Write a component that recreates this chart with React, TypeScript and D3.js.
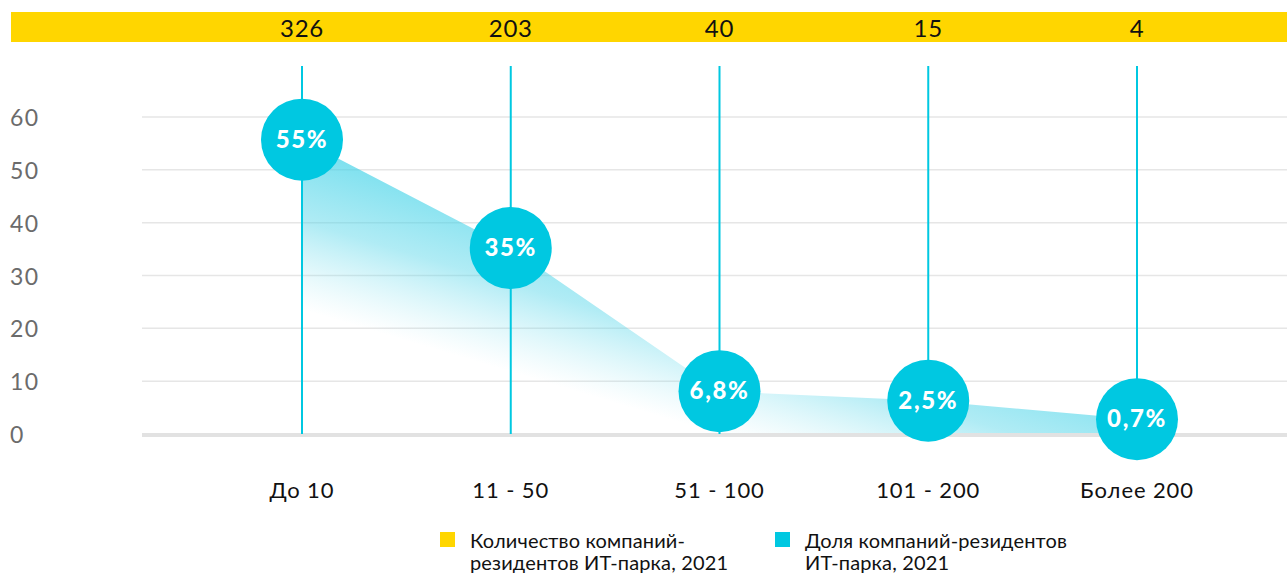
import React from "react";
import * as d3 from "d3";

const categories = ["До 10", "11 - 50", "51 - 100", "101 - 200", "Более 200"];
const companyCounts = [326, 203, 40, 15, 4];
const shareLabels = ["55%", "35%", "6,8%", "2,5%", "0,7%"];
// vertical positions of the bubbles as drawn in the reference (axis units)
const sharePlotted = [55.7, 35.2, 8.1, 6.3, 2.8];
const yTicks = [0, 10, 20, 30, 40, 50, 60];
const legendItems = [
  { color: "#FFD600", lines: ["Количество компаний-", "резидентов ИТ-парка, 2021"] },
  { color: "#00C8E1", lines: ["Доля компаний-резидентов", "ИТ-парка, 2021"] },
];

const W = 1287;
const H = 574;
const FONT = "Lato, 'Open Sans', sans-serif";

export default function App() {
  const x = d3.scalePoint<string>().domain(categories).range([302, 1137]);
  const y = d3.scaleLinear().domain([0, 60]).range([434, 117]);

  const pts = categories.map((c, i) => ({ c, v: sharePlotted[i] }));
  const area = d3
    .area<{ c: string; v: number }>()
    .x((d) => x(d.c) as number)
    .y0(y(0))
    .y1((d) => y(d.v))(pts) as string;

  const cyan = "#00C8E1";
  const r = 41;

  return (
    <svg
      width={W}
      height={H}
      style={{ position: "absolute", left: 0, top: 0, background: "#fff" }}
      fontFamily={FONT}
    >
      <defs>
        <linearGradient id="areaGrad" gradientUnits="userSpaceOnUse" x1={360} y1={130} x2={306} y2={311}>
          <stop offset="0" stopColor="#2fcfe6" stopOpacity={0.75} />
          <stop offset="0.55" stopColor="#4fd4e8" stopOpacity={0.45} />
          <stop offset="1" stopColor="#8fe3f0" stopOpacity={0} />
        </linearGradient>
      </defs>

      {/* top yellow band */}
      <rect x={11} y={12} width={W - 11} height={30} fill="#FFD600" />
      {categories.map((c, i) => (
        <text
          key={"cnt" + i}
          x={x(c)}
          y={37}
          textAnchor="middle"
          fontSize={24}
          letterSpacing={0.8}
          fill="#111"
        >
          {companyCounts[i]}
        </text>
      ))}

      {/* gridlines */}
      {yTicks.filter((t) => t > 0).map((t) => (
        <line key={"g" + t} x1={142} x2={W} y1={y(t)} y2={y(t)} stroke="#e6e6e6" strokeWidth={1.5} />
      ))}
      {yTicks.map((t) => (
        <text key={"yt" + t} x={10} y={y(t) + 9} fontSize={23} letterSpacing={1.5} fill="#6b6b6b">
          {t}
        </text>
      ))}

      {/* area */}
      <path d={area} fill="url(#areaGrad)" />

      {/* zero line */}
      <line x1={142} x2={W} y1={y(0) + 1} y2={y(0) + 1} stroke="#e2e2e2" strokeWidth={4} />

      {/* vertical lines */}
      {categories.map((c) => (
        <line key={"v" + c} x1={x(c)} x2={x(c)} y1={66} y2={y(0)} stroke={cyan} strokeWidth={2} />
      ))}

      {/* bubbles */}
      {pts.map((d, i) => (
        <g key={"b" + i}>
          <circle cx={x(d.c)} cy={y(d.v)} r={r} fill={cyan} />
          <text
            x={x(d.c)}
            y={y(d.v) + 8}
            textAnchor="middle"
            fontSize={24}
            fontWeight={900}
            letterSpacing={1.6}
            fill="#fff"
          >
            {shareLabels[i]}
          </text>
        </g>
      ))}

      {/* category labels */}
      {categories.map((c) => (
        <text key={"c" + c} x={x(c)} y={498} textAnchor="middle" fontSize={22} letterSpacing={0.9} fill="#111">
          {c}
        </text>
      ))}

      {/* legend */}
      {legendItems.map((it, i) => {
        const lx = i === 0 ? 440 : 775;
        return (
          <g key={"l" + i}>
            <rect x={lx} y={532} width={15} height={15} fill={it.color} />
            {it.lines.map((ln, j) => (
              <text key={j} x={lx + 30} y={548 + j * 22} fontSize={20} letterSpacing={0.15} fill="#111">
                {ln}
              </text>
            ))}
          </g>
        );
      })}
    </svg>
  );
}
